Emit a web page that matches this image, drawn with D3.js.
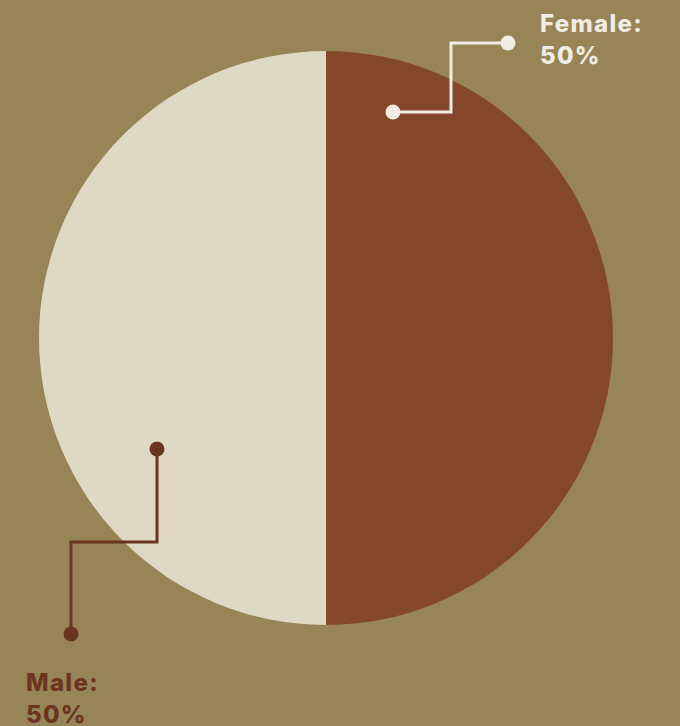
<!DOCTYPE html>
<html>
<head>
<meta charset="utf-8">
<script src="https://cdn.jsdelivr.net/npm/d3@7"></script>
<style>
  html, body { margin: 0; padding: 0; background: #978457; }
  svg { display: block; }
</style>
</head>
<body>
<svg id="chart" width="680" height="726"></svg>
<script>
// Gender split
const categories = ["Female", "Male"];
const values = [50, 50];
const sliceColors = ["#84472B", "#DFD8C5"];
const labelColors = ["#F1ECE4", "#6B3522"];

const width = 680, height = 726;
const cx = 326, cy = 338, radius = 287;

const svg = d3.select("#chart");
svg.append("rect").attr("width", width).attr("height", height).attr("fill", "#978457");

const pie = d3.pie().sort(null).value(d => d.value);
const arcs = pie(categories.map((c, i) => ({ name: c, value: values[i] })));
const arc = d3.arc().innerRadius(0).outerRadius(radius);

const g = svg.append("g").attr("transform", `translate(${cx},${cy})`);
g.selectAll("path")
  .data(arcs)
  .join("path")
  .attr("d", arc)
  .attr("fill", (d, i) => sliceColors[i]);

// Elbow leader lines: start inside the slice, step out to the label
const callouts = [
  { pts: [[393, 112], [451, 112], [451, 43], [508, 43]], text: [540, 32], anchor: "start" },
  { pts: [[157, 449], [157, 542], [71, 542], [71, 634]], text: [26, 691], anchor: "start" }
];

const line = d3.line();
callouts.forEach((c, i) => {
  const col = labelColors[i];
  svg.append("path")
    .attr("d", line(c.pts))
    .attr("fill", "none")
    .attr("stroke", col)
    .attr("stroke-width", 3);
  [c.pts[0], c.pts[c.pts.length - 1]].forEach(p => {
    svg.append("circle").attr("cx", p[0]).attr("cy", p[1]).attr("r", 7.5).attr("fill", col);
  });
  const t = svg.append("text")
    .attr("x", c.text[0]).attr("y", c.text[1])
    .attr("fill", col)
    .attr("font-family", "Inter, 'Noto Sans', sans-serif")
    .attr("font-weight", 800)
    .attr("font-size", 24)
    .attr("letter-spacing", 1.3)
    .attr("text-anchor", c.anchor);
  t.append("tspan").attr("x", c.text[0]).text(categories[i] + ":");
  t.append("tspan").attr("x", c.text[0]).attr("dy", 31.5).text(d3.format("d")(values[i]) + "%");
});
</script>
</body>
</html>
